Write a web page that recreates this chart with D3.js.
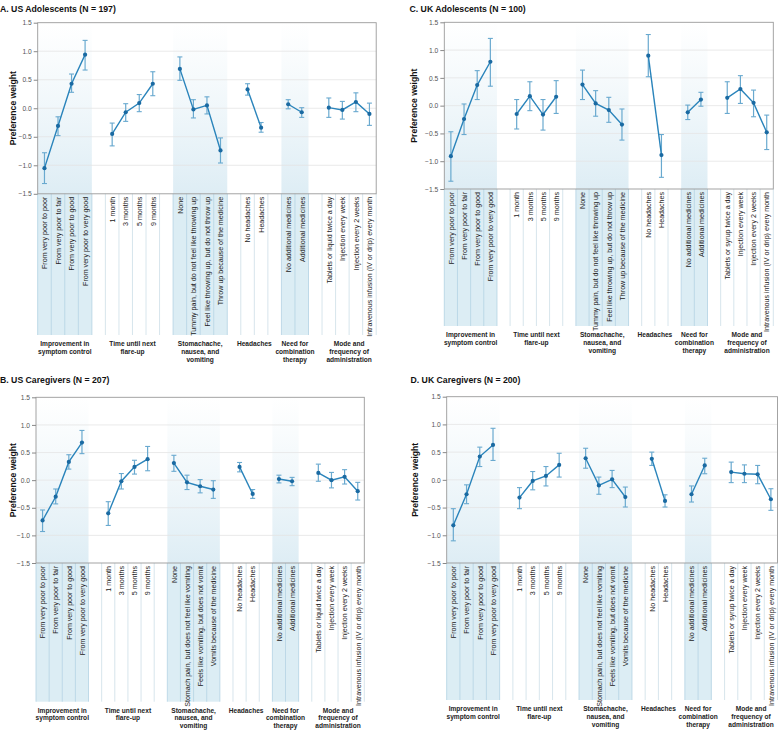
<!DOCTYPE html>
<html><head><meta charset="utf-8">
<script src="https://cdn.jsdelivr.net/npm/d3@7"></script>
<style>
html,body{margin:0;padding:0;background:#fff;}
svg{display:block;}
</style></head>
<body>
<svg id="chart" width="778" height="730"></svg>
<script>
// ---------------- DATA ----------------
const groupSizes = [4, 4, 4, 2, 2, 4];
const groupLabels = [
  ["Improvement in", "symptom control"],
  ["Time until next", "flare-up"],
  ["Stomachache,", "nausea, and", "vomiting"],
  ["Headaches"],
  ["Need for", "combination", "therapy"],
  ["Mode and", "frequency of", "administration"]
];
const shadedGroups = [0, 2, 4];
const yTicks = [-1.5, -1.0, -0.5, 0.0, 0.5, 1.0, 1.5];

const catsSymptom = ["From very poor to poor", "From very poor to fair", "From very poor to good", "From very poor to very good"];
const catsFlare = ["1 month", "3 months", "5 months", "9 months"];
const catsStomachAdol = ["None", "Tummy pain, but do not feel like throwing up", "Feel like throwing up, but do not throw up", "Throw up because of the medicine"];
const catsStomachCare = ["None", "Stomach pain, but does not feel like vomiting", "Feels like vomiting, but does not vomit", "Vomits because of the medicine"];
const catsHeadache = ["No headaches", "Headaches"];
const catsCombo = ["No additional medicines", "Additional medicines"];
const catsModeUS = ["Tablets or liquid twice a day", "Injection every week", "Injection every 2 weeks", "Intravenous infusion (IV or drip) every month"];
const catsModeUK = ["Tablets or syrup twice a day", "Injection every week", "Injection every 2 weeks", "Intravenous infusion (IV or drip) every month"];

// A. US Adolescents
const usAdolEst  = [-1.05, -0.31, 0.43, 0.94,  -0.45, -0.07, 0.09, 0.43,  0.69, -0.02, 0.05, -0.74,  0.33, -0.34,  0.07, -0.07,  0.01, -0.03, 0.11, -0.10];
const usAdolLow  = [-1.32, -0.48, 0.28, 0.67,  -0.66, -0.23, -0.06, 0.22,  0.49, -0.17, -0.10, -0.96,  0.23, -0.42,  -0.01, -0.16,  -0.16, -0.19, -0.06, -0.30];
const usAdolHigh = [-0.78, -0.15, 0.60, 1.19,  -0.26, 0.08, 0.24, 0.64,  0.90, 0.15, 0.20, -0.52,  0.43, -0.25,  0.15, 0.01,  0.18, 0.12, 0.27, 0.09];
// B. US Caregivers
const usCareEst  = [-0.73, -0.30, 0.33, 0.68,  -0.60, -0.02, 0.24, 0.38,  0.31, -0.04, -0.11, -0.17,  0.24, -0.25,  0.02, -0.02,  0.13, 0.00, 0.06, -0.20];
const usCareLow  = [-0.93, -0.43, 0.20, 0.48,  -0.82, -0.16, 0.11, 0.17,  0.16, -0.17, -0.23, -0.33,  0.15, -0.33,  -0.05, -0.10,  -0.02, -0.14, -0.07, -0.36];
const usCareHigh = [-0.54, -0.16, 0.46, 0.90,  -0.39, 0.12, 0.36, 0.61,  0.45, 0.09, 0.01, -0.01,  0.32, -0.17,  0.09, 0.05,  0.29, 0.14, 0.19, -0.04];
// C. UK Adolescents
const ukAdolEst  = [-0.91, -0.24, 0.37, 0.79,  -0.15, 0.17, -0.16, 0.16,  0.38, 0.04, -0.08, -0.34,  0.90, -0.89,  -0.12, 0.11,  0.14, 0.30, 0.05, -0.48];
const ukAdolLow  = [-1.36, -0.52, 0.11, 0.35,  -0.42, -0.09, -0.44, -0.14,  0.11, -0.19, -0.30, -0.62,  0.52, -1.29,  -0.25, -0.01,  -0.14, 0.04, -0.20, -0.79];
const ukAdolHigh = [-0.47, 0.03, 0.63, 1.21,  0.11, 0.43, 0.11, 0.45,  0.64, 0.27, 0.15, -0.06,  1.28, -0.52,  0.01, 0.24,  0.43, 0.54, 0.28, -0.17];
// D. UK Caregivers
const ukCareEst  = [-0.82, -0.26, 0.42, 0.63,  -0.32, -0.02, 0.07, 0.27,  0.39, -0.10, 0.01, -0.31,  0.38, -0.38,  -0.26, 0.26,  0.14, 0.11, 0.10, -0.35];
const ukCareLow  = [-1.10, -0.43, 0.24, 0.35,  -0.52, -0.18, -0.11, 0.05,  0.21, -0.26, -0.14, -0.49,  0.26, -0.49,  -0.40, 0.11,  -0.05, -0.05, -0.07, -0.55];
const ukCareHigh = [-0.52, -0.09, 0.59, 0.93,  -0.14, 0.15, 0.24, 0.48,  0.57, 0.05, 0.17, -0.13,  0.50, -0.27,  -0.11, 0.39,  0.32, 0.27, 0.26, -0.16];

// ---------------- LAYOUT ----------------
const panels = [
  {title: "A. US Adolescents (N = 197)", titleX: 0, titleY: 11.5,
   left: 37.7, right: 376.2, top: 22.7, bottom: 193.8, labelBottom: 335, yTitleX: 13,
   cats: [catsSymptom, catsFlare, catsStomachAdol, catsHeadache, catsCombo, catsModeUS],
   est: usAdolEst, low: usAdolLow, high: usAdolHigh},
  {title: "B. US Caregivers (N = 207)", titleX: 0, titleY: 383,
   left: 36, right: 364.3, top: 397.3, bottom: 563, labelBottom: 701.7, yTitleX: 13,
   cats: [catsSymptom, catsFlare, catsStomachCare, catsHeadache, catsCombo, catsModeUS],
   est: usCareEst, low: usCareLow, high: usCareHigh},
  {title: "C. UK Adolescents (N = 100)", titleX: 409.5, titleY: 11.5,
   left: 444.3, right: 773.3, top: 22.3, bottom: 189, labelBottom: 326, yTitleX: 413.5,
   cats: [catsSymptom, catsFlare, catsStomachAdol, catsHeadache, catsCombo, catsModeUK],
   est: ukAdolEst, low: ukAdolLow, high: ukAdolHigh},
  {title: "D. UK Caregivers (N = 200)", titleX: 410.5, titleY: 382.5,
   left: 446.7, right: 777.5, top: 396.7, bottom: 563, labelBottom: 700, yTitleX: 415,
   cats: [catsSymptom, catsFlare, catsStomachCare, catsHeadache, catsCombo, catsModeUK],
   est: ukCareEst, low: ukCareLow, high: ukCareHigh}
];

const svg = d3.select("#chart");
const defs = svg.append("defs");
const grad = defs.append("linearGradient").attr("id", "bandGrad")
  .attr("x1", 0).attr("y1", 0).attr("x2", 0).attr("y2", 1);
grad.append("stop").attr("offset", "0%").attr("stop-color", "#e3f0f6").attr("stop-opacity", 0);
grad.append("stop").attr("offset", "100%").attr("stop-color", "#dcecf4").attr("stop-opacity", 0.95);

const lineColor = "#2a84bb", ciColor = "#69a9cf", ptColor = "#1a6aa2";
const sans = "'Liberation Sans',Arial,sans-serif";

panels.forEach(p => {
  const g = svg.append("g");
  const slots = [];
  const items = [];
  p.cats.forEach((cs, gi) => {
    if (gi > 0) slots.push("gap" + gi);
    cs.forEach(c => { slots.push(gi + "|" + c); items.push({group: gi, label: c, key: gi + "|" + c}); });
  });
  items.forEach((d, i) => { d.est = p.est[i]; d.low = p.low[i]; d.high = p.high[i]; });

  const x = d3.scaleBand().domain(slots).range([p.left, p.right]).paddingInner(0).paddingOuter(0);
  const y = d3.scaleLinear().domain([-1.5, 1.5]).range([p.bottom, p.top]);
  const bw = x.bandwidth();

  const groups = p.cats.map((cs, gi) => {
    const keys = cs.map(c => gi + "|" + c);
    return {gi, x0: x(keys[0]), x1: x(keys[keys.length - 1]) + bw, keys};
  });

  g.selectAll("rect.band").data(groups.filter(d => shadedGroups.includes(d.gi))).join("rect")
    .attr("x", d => d.x0).attr("width", d => d.x1 - d.x0)
    .attr("y", y(1.5)).attr("height", y(-1.5) - y(1.5))
    .attr("fill", "url(#bandGrad)");

  g.selectAll("rect.lab").data(groups.filter(d => shadedGroups.includes(d.gi))).join("rect")
    .attr("x", d => d.x0).attr("width", d => d.x1 - d.x0)
    .attr("y", p.bottom).attr("height", p.labelBottom - p.bottom)
    .attr("fill", "#dcedf4");

  g.selectAll("line.grid").data(yTicks.filter(t => t > -1.5 && t < 1.5)).join("line")
    .attr("x1", p.left).attr("x2", p.right)
    .attr("y1", d => y(d)).attr("y2", d => y(d))
    .attr("stroke", "#e4e4e4").attr("stroke-width", 0.8);

  groups.forEach(gr => {
    const edges = gr.keys.map(k => x(k)).concat([gr.x1]);
    const shaded = shadedGroups.includes(gr.gi);
    g.selectAll(null).data(edges).join("line")
      .attr("x1", d => d).attr("x2", d => d)
      .attr("y1", p.bottom).attr("y2", p.labelBottom)
      .attr("stroke", shaded ? "#b9d6e5" : "#d3e2ea").attr("stroke-width", 0.9);
  });

  g.append("rect").attr("x", p.left).attr("y", p.top)
    .attr("width", p.right - p.left).attr("height", p.bottom - p.top)
    .attr("fill", "none").attr("stroke", "#9a9a9a").attr("stroke-width", 0.9);

  const ax = g.append("g").attr("transform", `translate(${p.left},0)`)
    .call(d3.axisLeft(y).tickValues(yTicks).tickFormat(d3.format(".1f")).tickSize(4).tickPadding(2));
  ax.select(".domain").remove();
  ax.selectAll(".tick line").attr("stroke", "#888");
  ax.selectAll(".tick text").attr("fill", "#555").style("font-family", sans).style("font-size", "6.7px");

  g.append("text").attr("transform", `translate(${p.yTitleX},${(p.top + p.bottom) / 2}) rotate(-90)`)
    .attr("text-anchor", "middle").attr("dy", "0.35em")
    .style("font-family", sans).style("font-weight", "bold").style("font-size", "8.6px")
    .attr("fill", "#111").text("Preference weight");

  g.append("text").attr("x", p.titleX).attr("y", p.titleY)
    .style("font-family", sans).style("font-weight", "bold").style("font-size", "8.7px")
    .attr("fill", "#111").text(p.title);

  // category labels (condensed horizontally along the text direction)
  g.selectAll("text.cat").data(items).join("text")
    .attr("transform", d => `translate(${x(d.key) + bw / 2},${p.bottom + 3}) rotate(-90) scale(0.9,1)`)
    .attr("text-anchor", "end").attr("dy", "0.35em")
    .style("font-family", sans).style("font-size", "7.9px")
    .attr("fill", "#222").text(d => d.label);

  // group labels
  groups.forEach(gr => {
    const t = g.append("text").attr("text-anchor", "middle")
      .attr("transform", `translate(${(gr.x0 + gr.x1) / 2},${p.labelBottom + 10.8}) scale(0.88,1)`)
      .style("font-family", sans).style("font-weight", "bold").style("font-size", "7.5px")
      .attr("fill", "#222");
    groupLabels[gr.gi].forEach((ln, li) => {
      t.append("tspan").attr("x", 0).attr("y", li * 8).text(ln);
    });
  });

  const cx = d => x(d.key) + bw / 2;
  g.selectAll("line.ci").data(items).join("line")
    .attr("x1", cx).attr("x2", cx).attr("y1", d => y(d.low)).attr("y2", d => y(d.high))
    .attr("stroke", ciColor).attr("stroke-width", 1.2);
  ["low", "high"].forEach(k => {
    g.selectAll(null).data(items).join("line")
      .attr("x1", d => cx(d) - 2.5).attr("x2", d => cx(d) + 2.5)
      .attr("y1", d => y(d[k])).attr("y2", d => y(d[k]))
      .attr("stroke", ciColor).attr("stroke-width", 1.1);
  });

  const line = d3.line().x(cx).y(d => y(d.est));
  groups.forEach(gr => {
    g.append("path").datum(items.filter(d => d.group === gr.gi))
      .attr("d", line).attr("fill", "none").attr("stroke", lineColor).attr("stroke-width", 1.4);
  });

  g.selectAll("circle.pt").data(items).join("circle")
    .attr("cx", cx).attr("cy", d => y(d.est)).attr("r", 2.1).attr("fill", ptColor);
});
</script>
</body></html>
